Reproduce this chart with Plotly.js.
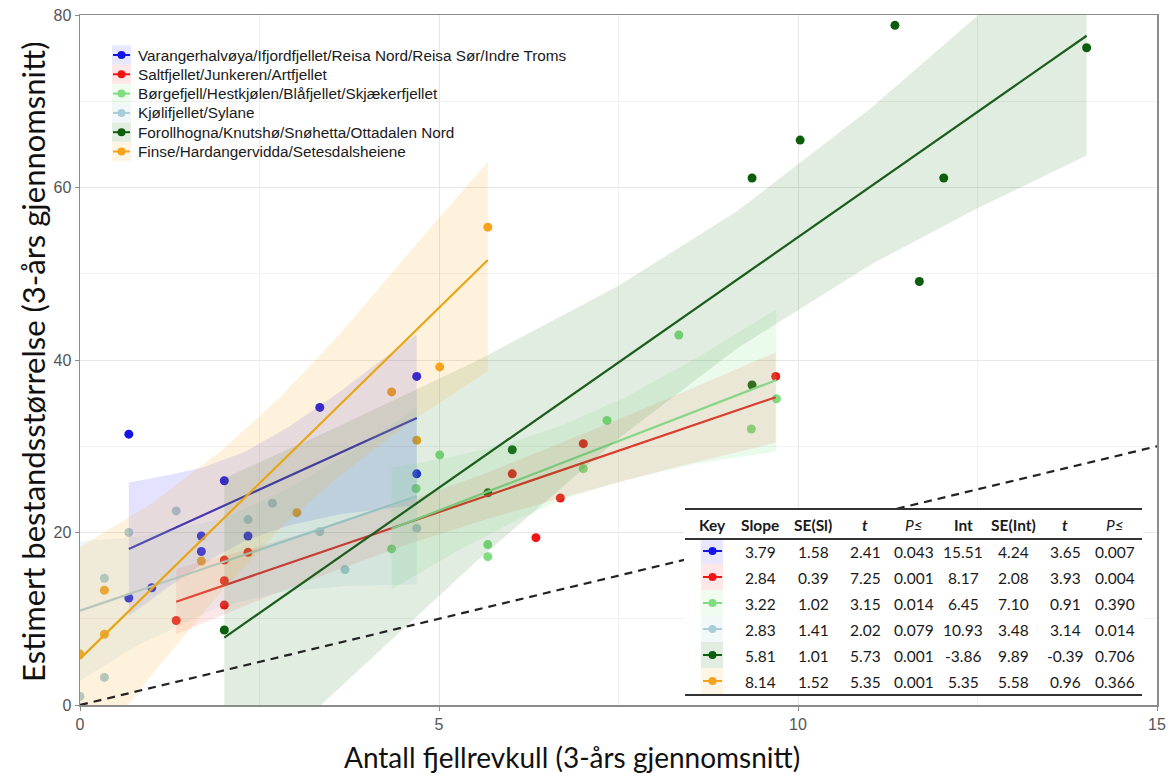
<!DOCTYPE html>
<html><head><meta charset="utf-8">
<script src="https://cdn.plot.ly/plotly-3.0.1.min.js"></script>
<style>html,body{margin:0;padding:0;background:#fff}#chart{width:1173px;height:778px}</style>
</head><body><div id="chart"></div>
<script>
// ---------- DATA ----------
const groupNames = [
  'Varangerhalvøya/Ifjordfjellet/Reisa Nord/Reisa Sør/Indre Troms',
  'Saltfjellet/Junkeren/Artfjellet',
  'Børgefjell/Hestkjølen/Blåfjellet/Skjækerfjellet',
  'Kjølifjellet/Sylane',
  'Forollhogna/Knutshø/Snøhetta/Ottadalen Nord',
  'Finse/Hardangervidda/Setesdalsheiene'
];
// observed points
const varX  = [0.68, 0.68, 1.0, 1.69, 1.69, 2.01, 2.34, 3.34, 4.69, 4.69];
const varY  = [31.4, 12.4, 13.6, 19.6, 17.8, 26.0, 19.6, 34.5, 38.1, 26.8];
const saltX = [1.34, 2.01, 2.01, 2.01, 2.34, 6.02, 6.35, 6.69, 7.01, 9.69];
const saltY = [9.8, 16.8, 14.4, 11.6, 17.7, 26.8, 19.4, 24.0, 30.3, 38.1];
const borgX = [4.34, 4.68, 5.01, 5.68, 5.68, 7.01, 7.34, 8.34, 9.35, 9.70];
const borgY = [18.1, 25.1, 29.0, 18.6, 17.2, 27.4, 33.0, 42.9, 32.0, 35.5];
const kjolX = [0.0, 0.34, 0.34, 0.68, 1.34, 2.34, 2.68, 3.34, 3.69, 4.69];
const kjolY = [1.0, 14.7, 3.2, 20.0, 22.5, 21.5, 23.4, 20.1, 15.7, 20.5];
const foroX = [2.01, 5.68, 6.02, 9.36, 9.36, 10.03, 11.35, 11.69, 12.03, 14.02];
const foroY = [8.7, 24.6, 29.6, 37.1, 61.1, 65.5, 78.8, 49.1, 61.1, 76.2];
const finsX = [0.0, 0.34, 0.34, 1.69, 3.02, 4.34, 4.69, 5.01, 5.68];
const finsY = [5.9, 13.3, 8.2, 16.7, 22.3, 36.3, 30.7, 39.2, 55.4];

// confidence bands
const varBandX  = [0.68, 1.2, 1.7, 2.28, 2.9, 3.6, 4.2, 4.69];
const varBandUp = [25.8, 26.6, 27.5, 29.3, 32.2, 36.2, 40.0, 43.0];
const varBandLo = [10.3, 13.5, 16.3, 19.0, 20.8, 22.1, 22.7, 23.2];
const saltBandX  = [1.34, 2.5, 3.5, 4.55, 5.6, 7.0, 8.3, 9.69];
const saltBandUp = [15.8, 18.4, 20.8, 23.6, 26.7, 31.4, 35.9, 40.9];
const saltBandLo = [8.2, 12.2, 15.4, 18.6, 21.4, 24.7, 27.6, 30.4];
const borgBandX  = [4.34, 5.2, 6.0, 6.71, 7.6, 8.6, 9.70];
const borgBandUp = [27.5, 28.8, 30.4, 32.4, 35.7, 40.3, 45.9];
const borgBandLo = [13.4, 17.6, 21.1, 23.8, 26.1, 28.0, 29.4];
const kjolBandX  = [0.0, 0.8, 1.94, 2.8, 3.7, 4.69];
const kjolBandUp = [19.0, 19.5, 21.5, 24.6, 29.0, 34.4];
const kjolBandLo = [2.8, 6.9, 11.4, 13.1, 13.8, 14.0];
const foroBandX  = [2.01, 3.5, 5.5, 7.5, 9.16, 11.0, 12.5, 14.02];
const foroBandUp = [26.3, 31.9, 39.8, 48.6, 57.3, 69.1, 79.9, 91.5];
const foroBandLo = [-10.6, 1.1, 16.5, 30.9, 41.4, 51.0, 57.6, 63.7];
const finsBandX  = [0.0, 1.0, 2.0, 2.79, 3.6, 4.6, 5.68];
const finsBandUp = [18.3, 23.4, 29.7, 35.7, 42.8, 52.6, 63.0];
const finsBandLo = [-7.2, 3.5, 13.5, 20.5, 26.5, 32.8, 38.7];

// regression table
const tabHeaders = ['Key', 'Slope', 'SE(Sl)', 't', 'P≤', 'Int', 'SE(Int)', 't', 'P≤'];
const slope  = ['3.79', '2.84', '3.22', '2.83', '5.81', '8.14'];
const seSl   = ['1.58', '0.39', '1.02', '1.41', '1.01', '1.52'];
const tSl    = ['2.41', '7.25', '3.15', '2.02', '5.73', '5.35'];
const pSl    = ['0.043', '0.001', '0.014', '0.079', '0.001', '0.001'];
const intc   = ['15.51', '8.17', '6.45', '10.93', '-3.86', '5.35'];
const seInt  = ['4.24', '2.08', '7.10', '3.48', '9.89', '5.58'];
const tInt   = ['3.65', '3.93', '0.91', '3.14', '-0.39', '0.96'];
const pInt   = ['0.007', '0.004', '0.390', '0.014', '0.706', '0.366'];

// reference dashed line
const refX = [0, 15];
const refY = [0, 30];

// ---------- STYLE ----------
const ptColors   = ['#1414e6', '#f01414', '#7fdc7f', '#a9cdd7', '#0b5e0b', '#f5a31c'];
const lineColors = ['#2424cc', '#ec1c1c', '#86d686', '#a9cdd7', '#1b5e1b', '#e8a515'];
const bandFills  = ['rgba(40,40,255,0.13)', 'rgba(255,40,40,0.11)', 'rgba(130,230,130,0.16)',
                    'rgba(150,200,215,0.16)', 'rgba(20,110,20,0.12)', 'rgba(255,170,30,0.15)'];
const swatchFills = ['rgba(60,60,255,0.12)', 'rgba(255,60,60,0.12)', 'rgba(130,230,130,0.12)',
                     'rgba(150,200,215,0.12)', 'rgba(20,110,20,0.12)', 'rgba(255,170,30,0.12)'];

const ptsX = [varX, saltX, borgX, kjolX, foroX, finsX];
const ptsY = [varY, saltY, borgY, kjolY, foroY, finsY];
const bX = [varBandX, saltBandX, borgBandX, kjolBandX, foroBandX, finsBandX];
const bU = [varBandUp, saltBandUp, borgBandUp, kjolBandUp, foroBandUp, finsBandUp];
const bL = [varBandLo, saltBandLo, borgBandLo, kjolBandLo, foroBandLo, finsBandLo];

const traces = [];
// points first
for (let i = 0; i < 6; i++) {
  traces.push({type: 'scatter', mode: 'markers', x: ptsX[i], y: ptsY[i], name: groupNames[i],
    marker: {color: ptColors[i], size: 9}, showlegend: false, hoverinfo: 'x+y'});
}
// bands and regression lines
for (let i = 0; i < 6; i++) {
  const xs = bX[i].concat(bX[i].slice().reverse());
  const ys = bU[i].concat(bL[i].slice().reverse());
  traces.push({type: 'scatter', mode: 'lines', x: xs, y: ys, fill: 'toself', fillcolor: bandFills[i],
    line: {width: 0}, showlegend: false, hoverinfo: 'skip'});
  const xmin = Math.min(...ptsX[i]), xmax = Math.max(...ptsX[i]);
  const a = parseFloat(intc[i]), b = parseFloat(slope[i]);
  traces.push({type: 'scatter', mode: 'lines', x: [xmin, xmax], y: [a + b * xmin, a + b * xmax],
    line: {color: lineColors[i], width: 2.2}, showlegend: false, hoverinfo: 'skip'});
}
// dashed reference
traces.push({type: 'scatter', mode: 'lines', x: refX, y: refY, line: {color: '#222', width: 2.2, dash: '8px,6px'},
  showlegend: false, hoverinfo: 'skip'});

// ---------- overlay (pixel-like axes) for legend & table ----------
const ov = {xaxis: 'x2', yaxis: 'y2', showlegend: false, hoverinfo: 'skip'};
const annotations = [];
const shapes = [];
function rect(x0, x1, y0, y1, color) {
  traces.push(Object.assign({type: 'scatter', mode: 'lines', x: [x0, x1, x1, x0, x0], y: [y0, y0, y1, y1, y0],
    fill: 'toself', fillcolor: color, line: {width: 0}}, ov));
}
function glyph(x0, x1, y, i) {
  traces.push(Object.assign({type: 'scatter', mode: 'lines', x: [x0, x1], y: [y, y],
    line: {color: ptColors[i], width: 2}}, ov));
  traces.push(Object.assign({type: 'scatter', mode: 'markers', x: [(x0 + x1) / 2], y: [y],
    marker: {color: ptColors[i], size: 8}}, ov));
}
// legend
const legFont = {family: 'Liberation Sans, Arial, sans-serif', size: 15.3, color: '#1a1a1a'};
for (let i = 0; i < 6; i++) {
  const ry = 55 + i * 19.3;
  rect(112, 131, ry - 9.6, ry + 9.6, swatchFills[i]);
  glyph(113, 130, ry, i);
  annotations.push({xref: 'x2', yref: 'y2', x: 136, y: ry, xanchor: 'left', yanchor: 'middle',
    text: groupNames[i], showarrow: false, font: legFont});
}
// table background
rect(684, 1143, 509, 695, '#ffffff');
const colX = [712, 760, 813, 865, 914, 963, 1013, 1065, 1115];
const rowY = [551, 577, 603, 629, 655, 681];
const tabFont = {family: 'Lato, Carlito, sans-serif', size: 15.5, color: '#1a1a1a'};
for (let i = 0; i < 6; i++) {
  rect(701, 723, rowY[i] - 13, rowY[i] + 13, swatchFills[i]);
  glyph(703, 722, rowY[i], i);
  const vals = [slope[i], seSl[i], tSl[i], pSl[i], intc[i], seInt[i], tInt[i], pInt[i]];
  vals.forEach((v, j) => annotations.push({xref: 'x2', yref: 'y2', x: colX[j + 1], y: rowY[i] + 1,
    xanchor: 'center', yanchor: 'middle', text: v, showarrow: false, font: tabFont}));
}
tabHeaders.forEach((h, j) => {
  let t = '<b>' + h + '</b>';
  if (h === 't') t = '<b><i>' + h + '</i></b>';
  if (h === 'P≤') t = '<i>' + h + '</i>';
  annotations.push({xref: 'x2', yref: 'y2', x: colX[j], y: 525, xanchor: 'center', yanchor: 'middle',
    text: t, showarrow: false, font: tabFont});
});
[[509, 2.2], [539, 2.2], [695, 2.2]].forEach(([yy, w]) => shapes.push({type: 'line', xref: 'x2', yref: 'y2',
  x0: 685, x1: 1142, y0: yy, y1: yy, line: {color: '#333', width: w}, layer: 'above'}));

// axis titles
annotations.push({xref: 'paper', yref: 'paper', x: (572 - 80) / 1077, y: (705 - 757) / 690,
  xanchor: 'center', yanchor: 'middle', showarrow: false, text: 'Antall fjellrevkull (3-års gjennomsnitt)',
  font: {family: 'Lato, Carlito, sans-serif', size: 28, color: '#111'}});
annotations.push({xref: 'paper', yref: 'paper', x: (33 - 80) / 1077, y: (705 - 362) / 690, textangle: -90,
  xanchor: 'center', yanchor: 'middle', showarrow: false, text: 'Estimert bestandsstørrelse (3-års gjennomsnitt)',
  font: {family: 'Lato, Carlito, sans-serif', size: 31, color: '#111'}});

const axCommon = {showline: true, mirror: true, linecolor: '#8c8c8c', linewidth: 1.5, zeroline: false,
  ticks: 'outside', ticklen: 4, tickcolor: '#8c8c8c', gridcolor: '#e6e6e6', gridwidth: 1,
  tickfont: {family: 'Liberation Sans, Arial, sans-serif', size: 16, color: '#555'}, fixedrange: true};

const layout = {
  width: 1173, height: 778,
  margin: {l: 80, r: 16, t: 15, b: 73},
  paper_bgcolor: '#fff', plot_bgcolor: '#fff',
  showlegend: false,
  xaxis: Object.assign({}, axCommon, {range: [0, 15], dtick: 5, tick0: 0,
    minor: {dtick: 2.5, showgrid: true, gridcolor: '#f1f1f1', gridwidth: 1}}),
  yaxis: Object.assign({}, axCommon, {range: [0, 80], dtick: 20, tick0: 0,
    minor: {dtick: 10, showgrid: true, gridcolor: '#f1f1f1', gridwidth: 1}}),
  xaxis2: {overlaying: 'x', range: [80, 1157], visible: false, fixedrange: true},
  yaxis2: {overlaying: 'y', range: [705, 15], visible: false, fixedrange: true},
  annotations: annotations,
  shapes: shapes
};
Plotly.newPlot('chart', traces, layout, {displayModeBar: false, staticPlot: true});
</script></body></html>
